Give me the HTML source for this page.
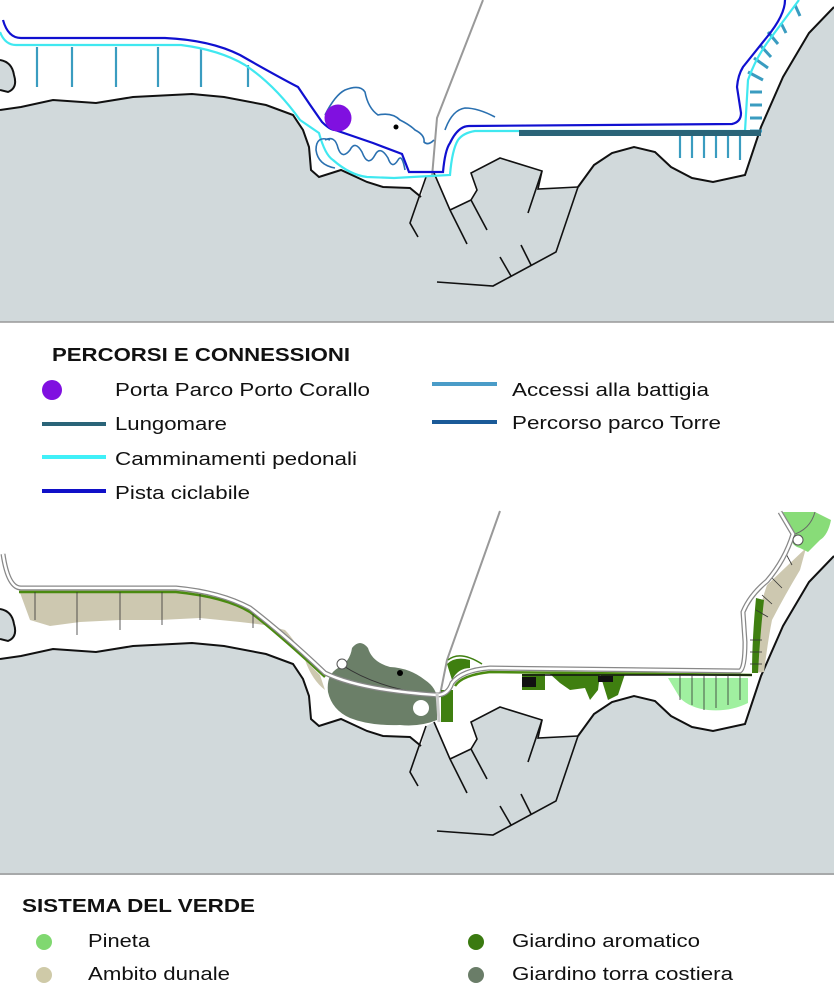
<!DOCTYPE html>
<html><head><meta charset="utf-8"><style>html,body{margin:0;padding:0;background:#fff}svg{display:block}text{font-family:"Liberation Sans",sans-serif;fill:#111}</style></head><body>
<svg width="834" height="1000" viewBox="0 0 834 1000" xmlns="http://www.w3.org/2000/svg">
<defs>
<g id="base">
<path d="M0,110 L21,107 53,100 96,103 133,97 192,94 224,97 266,105 293,115 303,130 309,147 311,170 319,177 341,170 367,182 383,187 410,188 421,197 426,177 434,173 450,210 471,200 477,190 471,173 500,158 542,171 538,189 578,187 594,165 612,153 634,147 655,152 671,167 692,178 713,182 745,175 751,157 761,127 783,77 809,33 834,7 L834,322 L0,322 Z" fill="#d1d9db"/>
<path d="M0,110 L21,107 53,100 96,103 133,97 192,94 224,97 266,105 293,115 303,130 309,147 311,170 319,177 341,170 367,182 383,187 410,188 421,197" fill="none" stroke="#111" stroke-width="2"/>
<path d="M578,187 L594,165 612,153 634,147 655,152 671,167 692,178 713,182 745,175 751,157 761,127 783,77 809,33 834,7" fill="none" stroke="#111" stroke-width="2"/>
<path d="M0,60 Q12,62 14,75 Q18,88 8,92 L0,90" fill="#d1d9db" stroke="#111" stroke-width="2"/>
<g fill="none" stroke="#111" stroke-width="1.6">
<path d="M426,177 L410,223 418,237"/>
<path d="M434,173 L450,210 467,244"/>
<path d="M450,210 L471,200 477,190 471,173 500,158 542,171 538,189 578,187"/>
<path d="M471,200 L487,230"/>
<path d="M542,171 L528,213"/>
<path d="M578,187 L556,252 493,286 437,282"/>
<path d="M521,245 L531,265"/>
<path d="M500,257 L511,276"/>
</g>
</g>
</defs>
<use href="#base"/>
<path d="M483,0 L437,118 L432,177" fill="none" stroke="#999" stroke-width="2"/>
<g stroke="#3a9cc0" stroke-width="2.2">
<line x1="37" y1="47" x2="37" y2="87"/><line x1="72" y1="47" x2="72" y2="87"/><line x1="116" y1="47" x2="116" y2="87"/><line x1="158" y1="47" x2="158" y2="87"/><line x1="201" y1="49" x2="201" y2="87"/><line x1="248" y1="65" x2="248" y2="87"/>
<line x1="680" y1="133" x2="680" y2="158"/><line x1="692" y1="133" x2="692" y2="158"/><line x1="704" y1="133" x2="704" y2="158"/><line x1="716" y1="133" x2="716" y2="158"/><line x1="728" y1="133" x2="728" y2="158"/><line x1="740" y1="133" x2="740" y2="160"/>
<g stroke-width="3"><line x1="750" y1="92" x2="762" y2="92"/><line x1="750" y1="105" x2="762" y2="105"/><line x1="750" y1="118" x2="762" y2="118"/><line x1="750" y1="131" x2="762" y2="131"/>
<line x1="748" y1="72" x2="763" y2="80"/><line x1="754" y1="58" x2="768" y2="68"/><line x1="760" y1="45" x2="771" y2="57"/><line x1="768" y1="32" x2="778" y2="44"/><line x1="781" y1="23" x2="786" y2="33"/><line x1="795" y1="5" x2="800" y2="16"/></g>
</g>
<path d="M0,32 Q5,45 16,45 L181,45 Q220,50 245,65 Q275,85 300,120 L319,133 Q325,155 333,160 Q350,175 367,177 L394,178 L450,175 Q452,150 458,140 Q463,133 475,131 L745,131 L748,80 Q755,60 767,43 L799,0" fill="none" stroke="#40e8f0" stroke-width="2.2"/>
<path d="M3,20 Q8,38 21,38 L165,38 Q210,40 240,55 Q275,75 298,87 Q310,105 322,122 Q330,130 335,130 L373,143 L402,154 L409,172 L443,172 Q445,150 450,143 Q458,126 469,126 L732,124 Q741,122 741,113 L737,87 Q738,75 743,67 L767,37 Q785,15 785,0" fill="none" stroke="#1010d0" stroke-width="2.2"/>
<rect x="519" y="130" width="242" height="6" fill="#2a6478"/>
<g fill="none" stroke="#2a70b0" stroke-width="1.6">
<path d="M325,115 Q335,95 345,90 Q360,84 365,92 Q368,108 378,115 Q392,112 400,120 Q410,125 415,130 Q425,135 424,142 Q428,146 434,140"/>
<path d="M445,130 Q452,110 465,108 Q478,108 495,117"/>
<path d="M330,140 Q316,135 316,150 Q318,165 335,168 M325,140 Q335,135 338,148 Q342,160 350,150 Q355,140 362,152 Q368,168 375,155 Q380,145 388,158 Q392,170 398,160 Q402,153 405,170"/>
</g>
<circle cx="338" cy="118" r="13.5" fill="#8010e0"/>
<circle cx="396" cy="127" r="2.5" fill="#000"/>
<line x1="0" y1="322" x2="834" y2="322" stroke="#999" stroke-width="1.5"/>
<text x="52" y="361" font-size="18" font-weight="bold" textLength="298" lengthAdjust="spacingAndGlyphs">PERCORSI E CONNESSIONI</text>
<circle cx="52" cy="390" r="10" fill="#8010e0"/>
<text x="115" y="396" font-size="18" textLength="255" lengthAdjust="spacingAndGlyphs">Porta Parco Porto Corallo</text>
<line x1="432" y1="384" x2="497" y2="384" stroke="#4a9cc8" stroke-width="4"/>
<text x="512" y="396" font-size="18" textLength="197" lengthAdjust="spacingAndGlyphs">Accessi alla battigia</text>
<line x1="42" y1="424" x2="106" y2="424" stroke="#2a6478" stroke-width="4"/>
<text x="115" y="430" font-size="18" textLength="112" lengthAdjust="spacingAndGlyphs">Lungomare</text>
<line x1="432" y1="422" x2="497" y2="422" stroke="#1a5a98" stroke-width="4"/>
<text x="512" y="429" font-size="18" textLength="209" lengthAdjust="spacingAndGlyphs">Percorso parco Torre</text>
<line x1="42" y1="457" x2="106" y2="457" stroke="#40f0f8" stroke-width="4"/>
<text x="115" y="465" font-size="18" textLength="242" lengthAdjust="spacingAndGlyphs">Camminamenti pedonali</text>
<line x1="42" y1="491" x2="106" y2="491" stroke="#1010c8" stroke-width="4"/>
<text x="115" y="499" font-size="18" textLength="135" lengthAdjust="spacingAndGlyphs">Pista ciclabile</text>
<g transform="translate(0,549)"><use href="#base"/></g>
<rect x="0" y="871" width="834" height="4" fill="#d1d9db"/>
<line x1="0" y1="874" x2="834" y2="874" stroke="#999" stroke-width="1.5"/>
<path d="M500,511 L447,660 L440,695" fill="none" stroke="#999" stroke-width="2"/>
<path d="M19,590 L176,590 Q225,595 250,610 Q285,640 320,675 L325,690 Q312,680 305,660 Q295,640 285,630 L265,625 L240,622 L200,618 L160,620 L120,620 L80,622 L50,626 L30,620 Z" fill="#cdc8b0"/>
<path d="M767,585 Q758,610 756,640 L752,673 L764,672 Q768,640 772,620 Q785,595 800,570 L806,548 Z" fill="#cdc8b0"/>
<path d="M668,678 L748,678 L748,703 Q730,712 708,710 Q690,708 680,698 Z" fill="#a0f0a0"/>
<path d="M783,512 L815,512 L831,520 Q828,535 820,540 L808,552 L800,548 Q790,545 793,538 Z" fill="#88dc78"/>
<path d="M792,535 Q810,530 815,512" fill="none" stroke="#666" stroke-width="1"/>
<path d="M352,648 Q360,638 368,648 Q372,662 390,667 Q410,668 425,680 Q437,688 437,700 L437,720 Q420,727 400,725 Q370,726 350,718 Q332,710 328,692 Q326,675 338,668 Q350,662 352,648 Z" fill="#6b7f68"/>
<g fill="#3f7f10">
<path d="M522,674 L545,674 L545,690 L522,690 Z"/>
<path d="M550,674 L600,674 L598,690 L590,700 L585,688 L570,690 L560,683 Z"/>
<path d="M600,674 L625,674 L618,695 L608,700 Z"/>
<path d="M447,664 Q455,656 470,660 L470,668 Q458,668 452,680 Z"/>
<path d="M441,690 L453,690 L453,722 L441,722 Z"/>
<path d="M756,598 Q752,640 752,673 L758,673 Q760,635 764,600 Z"/>
</g>
<path d="M448,660 Q460,650 482,664" fill="none" stroke="#3f7f10" stroke-width="1.5"/>
<rect x="522" y="677" width="14" height="10" fill="#111"/>
<rect x="598" y="676" width="15" height="6" fill="#111"/>
<path d="M19,592 L176,592 Q225,597 250,612 Q280,635 325,677 M455,686 Q462,675 490,672 L752,675" fill="none" stroke="#4a8a10" stroke-width="2.5"/>
<path d="M522,675 L752,675" stroke="#111" stroke-width="1.5"/>
<g stroke="#333" stroke-width="0.8">
<line x1="35" y1="592" x2="35" y2="620"/><line x1="77" y1="592" x2="77" y2="635"/><line x1="120" y1="592" x2="120" y2="630"/><line x1="162" y1="592" x2="162" y2="625"/><line x1="200" y1="594" x2="200" y2="620"/><line x1="253" y1="614" x2="253" y2="628"/>
<line x1="680" y1="675" x2="680" y2="700"/><line x1="692" y1="675" x2="692" y2="705"/><line x1="704" y1="675" x2="704" y2="710"/><line x1="716" y1="675" x2="716" y2="708"/><line x1="728" y1="675" x2="728" y2="705"/><line x1="740" y1="675" x2="740" y2="700"/>
<line x1="750" y1="640" x2="762" y2="640"/><line x1="750" y1="652" x2="762" y2="652"/><line x1="750" y1="664" x2="762" y2="664"/><line x1="756" y1="610" x2="768" y2="617"/><line x1="762" y1="595" x2="772" y2="604"/><line x1="772" y1="578" x2="782" y2="588"/><line x1="785" y1="552" x2="792" y2="565"/>
</g>
<path d="M342,665 Q380,690 437,695" fill="none" stroke="#333" stroke-width="1"/>
<path d="M3,554 Q8,588 21,588 L176,588 Q220,592 250,608 Q285,635 325,673 Q360,690 437,695 Q448,695 452,683 Q462,670 490,668 L740,671 Q745,668 745,642 L743,612 Q750,595 767,581 Q785,560 793,534 L780,512" fill="none" stroke="#888" stroke-width="5"/>
<path d="M3,554 Q8,588 21,588 L176,588 Q220,592 250,608 Q285,635 325,673 Q360,690 437,695 Q448,695 452,683 Q462,670 490,668 L740,671 Q745,668 745,642 L743,612 Q750,595 767,581 Q785,560 793,534 L780,512" fill="none" stroke="#fff" stroke-width="2.5"/>
<line x1="437" y1="693" x2="439" y2="722" stroke="#ccc" stroke-width="3"/>
<circle cx="342" cy="664" r="5" fill="#fff" stroke="#555" stroke-width="1"/>
<circle cx="421" cy="708" r="8" fill="#fff"/>
<circle cx="400" cy="673" r="3" fill="#000"/>
<circle cx="798" cy="540" r="5" fill="#fff" stroke="#555" stroke-width="1"/>
<text x="22" y="912" font-size="18" font-weight="bold" textLength="233" lengthAdjust="spacingAndGlyphs">SISTEMA DEL VERDE</text>
<circle cx="44" cy="942" r="8" fill="#80d870"/>
<text x="88" y="947" font-size="18" textLength="62" lengthAdjust="spacingAndGlyphs">Pineta</text>
<circle cx="44" cy="975" r="8" fill="#cfcaa8"/>
<text x="88" y="980" font-size="18" textLength="142" lengthAdjust="spacingAndGlyphs">Ambito dunale</text>
<circle cx="476" cy="942" r="8" fill="#3a7a10"/>
<text x="512" y="947" font-size="18" textLength="188" lengthAdjust="spacingAndGlyphs">Giardino aromatico</text>
<circle cx="476" cy="975" r="8" fill="#6a7d68"/>
<text x="512" y="980" font-size="18" textLength="221" lengthAdjust="spacingAndGlyphs">Giardino torra costiera</text>
</svg>
</body></html>
